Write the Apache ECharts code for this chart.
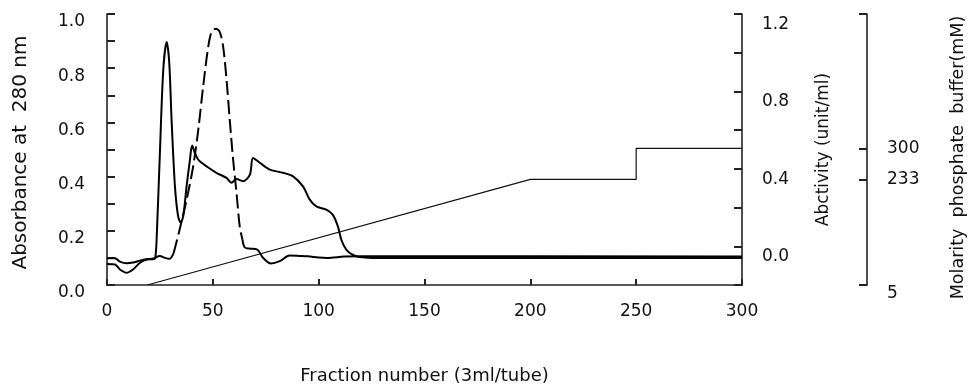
<!DOCTYPE html>
<html>
<head>
<meta charset="utf-8">
<script src="https://cdn.jsdelivr.net/npm/echarts@6/dist/echarts.min.js"></script>
<style>
html,body{margin:0;padding:0;background:#fff;}
#chart{width:970px;height:392px;}
</style>
</head>
<body>
<div id="chart"></div>
<script>
// Absorbance at 280 nm (left axis)
const fractionAbs = [0, 3.8, 6.1, 9.3, 12.3, 15.6, 18.7, 21.8, 22.8, 23.5, 25, 26.6, 28.2, 29.4, 30.5, 32.1, 33.6, 34.8, 36, 37.6, 39.2, 40.2, 41.5, 43.1, 47, 51.7, 56.5, 58.8, 61.2, 64.3, 67.5, 69, 72.2, 76.9, 83.2, 87.9, 92.6, 95.8, 98.9, 103.6, 106.7, 109.1, 110.7, 113.1, 116.2, 119.3, 125, 300];
const absorbance  = [0.099, 0.099, 0.086, 0.080, 0.083, 0.090, 0.095, 0.095, 0.100, 0.180, 0.490, 0.796, 0.897, 0.821, 0.611, 0.364, 0.253, 0.231, 0.253, 0.364, 0.463, 0.515, 0.488, 0.463, 0.438, 0.414, 0.395, 0.377, 0.391, 0.383, 0.407, 0.469, 0.451, 0.426, 0.414, 0.401, 0.364, 0.315, 0.290, 0.278, 0.259, 0.216, 0.167, 0.130, 0.111, 0.103, 0.100, 0.100];

// Activity (unit/ml) (right axis)
const fractionAct = [0, 3.8, 6.1, 9.3, 12.3, 15.6, 18.7, 21.8, 25, 27.4, 29.5, 31.5, 34.4, 37.6, 40.7, 43.1, 45.4, 47.8, 49.4, 51.4, 53.3, 54.9, 56.5, 58, 59.6, 61.2, 62.7, 64, 65, 67, 71, 73.6, 77.5, 81.6, 86.3, 91, 95, 100, 104, 112, 120, 300];
const activity    = [-0.091, -0.094, -0.120, -0.137, -0.120, -0.085, -0.068, -0.063, -0.050, -0.060, -0.065, -0.035, 0.090, 0.240, 0.412, 0.600, 0.823, 1.029, 1.107, 1.124, 1.107, 1.029, 0.858, 0.652, 0.446, 0.275, 0.103, 0.034, -0.005, -0.012, -0.017, -0.058, -0.089, -0.077, -0.048, -0.050, -0.052, -0.058, -0.060, -0.053, -0.051, -0.053];
const dashStart = 31.5, dashEnd = 64;

// Phosphate buffer gradient (mM)
const fractionBuf = [19, 200, 250, 250, 300];
const molarity    = [5, 233, 233, 300, 300];

// Tick labels
const xLabels      = [0, 50, 100, 150, 200, 250, 300];
const absLabels    = [0, 0.2, 0.4, 0.6, 0.8, 1.0];
const actLabels    = [0, 0.4, 0.8, 1.2];
const bufTicks     = [5, 233, 300, 590];
const bufLabels    = [5, 233, 300];

const zip = (xs, ys) => xs.map((x, i) => [x, ys[i]]);
const actAll = zip(fractionAct, activity);
const actPre  = actAll.filter(p => p[0] <= dashStart);
const actPeak = actAll.filter(p => p[0] >= dashStart && p[0] <= dashEnd);
const actPost = actAll.filter(p => p[0] >= dashEnd);

const FONT = 'DejaVu Sans';
const INK = '#111';
const axisLineStyle = { color: '#222', width: 1.6 };
const tickStyle = { color: '#222', width: 2 };

const chart = echarts.init(document.getElementById('chart'), null, { renderer: 'canvas' });
chart.setOption({
  animation: false,
  backgroundColor: '#fff',
  grid: { left: 107, right: 228, top: 14, bottom: 107, containLabel: false, outerBoundsMode: 'none' },
  xAxis: {
    type: 'value', min: 0, max: 300, interval: 50,
    name: 'Fraction number (3ml/tube)', nameLocation: 'middle', nameGap: 82,
    nameTextStyle: { fontFamily: FONT, fontSize: 18, color: INK },
    axisLine: { show: true, lineStyle: axisLineStyle },
    axisTick: { show: true, inside: true, length: 6, lineStyle: tickStyle },
    axisLabel: { customValues: xLabels, margin: 18, fontFamily: FONT, fontSize: 17, color: INK },
    splitLine: { show: false }
  },
  yAxis: [
    {
      type: 'value', position: 'left', min: 0, max: 1.0, interval: 0.1,
      name: 'Absorbance at  280 nm', nameLocation: 'middle', nameGap: 76, nameRotate: 90,
      nameTextStyle: { fontFamily: FONT, fontSize: 20, color: INK, padding: [0, 6, 0, 0] },
      axisLine: { show: true, lineStyle: axisLineStyle },
      axisTick: { show: true, inside: true, length: 8, lineStyle: tickStyle },
      axisLabel: { customValues: absLabels, margin: 22, verticalAlign: 'top', lineHeight: 16,
        formatter: v => Number(v).toFixed(1), fontFamily: FONT, fontSize: 17, color: INK },
      splitLine: { show: false }
    },
    {
      type: 'value', position: 'right', min: -0.2, max: 1.2, interval: 0.2,
      name: 'Abctivity (unit/ml)', nameLocation: 'middle', nameGap: 73, nameRotate: 90,
      nameTextStyle: { fontFamily: FONT, fontSize: 17, color: INK },
      axisLine: { show: true, lineStyle: axisLineStyle },
      axisTick: { show: true, inside: true, length: 8, lineStyle: tickStyle },
      axisLabel: { customValues: actLabels, margin: 20, verticalAlign: 'top', lineHeight: 21,
        formatter: v => Number(v).toFixed(1), fontFamily: FONT, fontSize: 17, color: INK },
      splitLine: { show: false }
    },
    {
      type: 'value', position: 'right', offset: 125, min: 5, max: 590,
      name: 'Molarity  phosphate  buffer(mM)', nameLocation: 'middle', nameGap: 82, nameRotate: 90,
      nameTextStyle: { fontFamily: FONT, fontSize: 17.5, color: INK, padding: [0, 16, 0, 0] },
      axisLine: { show: true, lineStyle: axisLineStyle },
      axisTick: { show: true, inside: true, length: 8, customValues: bufTicks, lineStyle: tickStyle },
      axisLabel: { customValues: bufLabels, margin: 20, fontFamily: FONT, fontSize: 17, color: INK,
        formatter: v => (v === 5 ? '{low|5}' : String(v)),
        rich: { low: { fontFamily: FONT, fontSize: 17, color: INK, padding: [18, 0, 0, 0] } } },
      splitLine: { show: false }
    }
  ],
  series: [
    { name: 'Absorbance', type: 'line', yAxisIndex: 0, data: zip(fractionAbs, absorbance),
      showSymbol: false, smooth: 0.3, lineStyle: { color: '#000', width: 2 } },
    { name: 'Activity', type: 'line', yAxisIndex: 1, data: actPre,
      showSymbol: false, smooth: 0.3, lineStyle: { color: '#000', width: 2 } },
    { name: 'Activity peak', type: 'line', yAxisIndex: 1, data: actPeak,
      showSymbol: false, smooth: 0.3, lineStyle: { color: '#000', width: 2, type: [14, 5] } },
    { name: 'Activity tail', type: 'line', yAxisIndex: 1, data: actPost,
      showSymbol: false, smooth: 0.3, lineStyle: { color: '#000', width: 2 } },
    { name: 'Buffer', type: 'line', yAxisIndex: 2, data: zip(fractionBuf, molarity),
      showSymbol: false, smooth: false, lineStyle: { color: '#111', width: 1.2 } }
  ]
});
</script>
</body>
</html>
